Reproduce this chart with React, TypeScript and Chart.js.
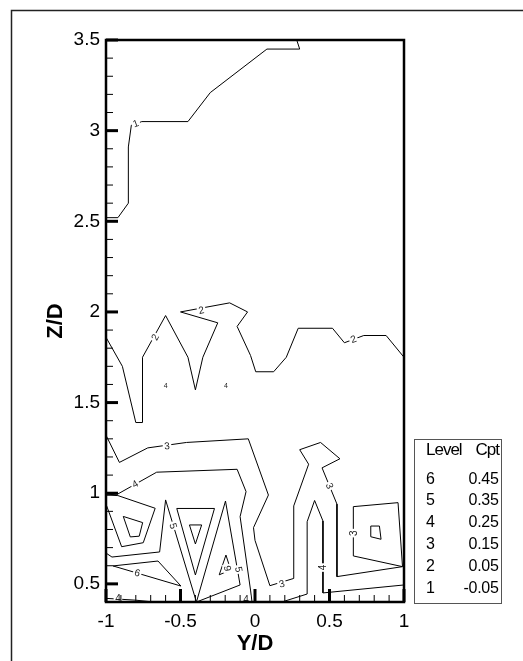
import React, { useEffect, useRef } from "react";
import { Chart, registerables } from "chart.js";

Chart.register(...registerables);

type Pt = [number, number];

// Axis ticks
const xTickValues = [-1, -0.5, 0, 0.5, 1];
const yTickValues = [0.5, 1, 1.5, 2, 2.5, 3, 3.5];

// Level table
const levelIds = [6, 5, 4, 3, 2, 1];
const cptValues = [0.45, 0.35, 0.25, 0.15, 0.05, -0.05];

// Contour polylines, (Y/D, Z/D)
const level1Path: Pt[] = [
  [-1.0, 2.52], [-0.92, 2.52], [-0.85, 2.6], [-0.85, 2.91], [-0.83, 3.03], [-0.79, 3.04],
  [-0.76, 3.05], [-0.45, 3.05], [-0.3, 3.21], [0.08, 3.45], [0.3, 3.45], [0.28, 3.5],
];
const level2Path: Pt[] = [
  [-1.0, 1.86], [-0.89, 1.7], [-0.8, 1.39], [-0.755, 1.39], [-0.755, 1.75], [-0.6, 1.98],
  [-0.45, 1.75], [-0.4, 1.57], [-0.35, 1.75], [-0.25, 1.94], [-0.5, 2.0], [-0.17, 2.05],
  [-0.05, 2.0], [-0.12, 1.92], [-0.03, 1.76], [0.005, 1.67], [0.125, 1.67], [0.21, 1.75],
  [0.29, 1.91], [0.52, 1.91], [0.6, 1.83], [0.73, 1.87], [0.88, 1.87], [1.0, 1.75],
];
const level3Path: Pt[] = [
  [-1.0, 1.32], [-0.91, 1.17], [-0.72, 1.25], [-0.46, 1.28], [-0.045, 1.3], [0.09, 0.99],
  [-0.01, 0.81], [0.0, 0.74], [0.1, 0.49], [0.26, 0.53], [0.26, 0.93], [0.36, 1.16],
  [0.3, 1.24], [0.44, 1.28], [0.57, 1.19], [0.45, 1.14], [0.55, 0.94], [0.55, 0.54],
  [0.99, 0.595], [0.66, 0.654], [0.66, 0.926], [0.96, 0.948], [0.99, 0.595],
];
const level3Core: Pt[] = [[0.777, 0.819], [0.835, 0.819], [0.846, 0.746], [0.777, 0.76], [0.777, 0.819]];
const level4Upper: Pt[] = [
  [-1.0, 0.99], [-0.92, 0.996], [-0.66, 1.116], [-0.12, 1.132], [-0.06, 1.009],
  [-0.1, 0.871], [-0.03, 0.466], [-0.02, 0.4],
];
const level4Right: Pt[] = [
  [0.18, 0.4], [0.35, 0.444], [0.35, 0.843], [0.4, 0.96], [0.456, 0.847], [0.456, 0.45], [1.0, 0.494],
];
const level4Floor: Pt[] = [[-1.0, 0.42], [-0.8, 0.41], [-0.68, 0.4]];
const level5Loop: Pt[] = [[-1.0, 0.94], [-0.895, 0.705], [-0.75, 0.727], [-0.67, 0.917], [-0.92, 0.987], [-1.0, 0.99]];
const level6Core: Pt[] = [[-0.884, 0.872], [-0.754, 0.838], [-0.777, 0.763], [-0.837, 0.759], [-0.884, 0.872]];
const level5Wedge: Pt[] = [[-1.0, 0.67], [-0.96, 0.648], [-0.64, 0.676], [-0.6, 0.963], [-0.393, 0.4]];
const level5Spike: Pt[] = [[-0.393, 0.4], [-0.198, 0.957], [-0.1, 0.494], [-0.393, 0.4]];
const level6Band: Pt[] = [[-0.953, 0.599], [-0.651, 0.626], [-0.497, 0.488], [-0.953, 0.599]];
const funnelOuter: Pt[] = [[-0.525, 0.916], [-0.272, 0.916], [-0.4, 0.549], [-0.525, 0.916]];
const funnelInner: Pt[] = [[-0.44, 0.825], [-0.358, 0.825], [-0.4, 0.72], [-0.44, 0.825]];
const level6Sliver: Pt[] = [[-0.195, 0.659], [-0.24, 0.55], [-0.163, 0.577], [-0.195, 0.659]];

const contourPaths: Pt[][] = [
  level1Path, level2Path, level3Path, level3Core, level4Upper, level4Right, level4Floor,
  level5Loop, level6Core, level5Wedge, level5Spike, level6Band, funnelOuter, funnelInner, level6Sliver,
];

// In-line contour labels: text, Y/D, Z/D, rotation (deg)
const contourLabels: [string, number, number, number][] = [
  ["1", -0.8, 3.04, -20],
  ["2", -0.67, 1.86, -62],
  ["2", -0.36, 2.01, -12],
  ["2", 0.66, 1.85, -21],
  ["3", -0.59, 1.26, -5],
  ["3", 0.18, 0.5, -15],
  ["3", 0.5, 1.04, 68],
  ["3", 0.665, 0.78, -90],
  ["4", -0.805, 1.05, -29],
  ["4", 0.456, 0.59, -90],
  ["4", -0.92, 0.42, 0],
  ["4", -0.06, 0.41, 0],
  ["5", -0.55, 0.82, 73],
  ["5", -0.11, 0.58, 80],
  ["6", -0.79, 0.56, 16],
  ["6", -0.183, 0.586, -100],
];
// Very small closed contours shown only by their label
const pointLabels: [string, number, number][] = [
  ["4", -0.6, 1.59],
  ["4", -0.195, 1.59],
];

const FONT = '"Liberation Sans", Arial, Helvetica, sans-serif';

const decorPlugin = {
  id: "decor",
  afterDatasetsDraw(chart: any) {
    const { ctx, chartArea: a, scales } = chart;
    const xs = scales.x;
    const ys = scales.y;
    ctx.save();

    // contour labels with a white gap behind them
    ctx.font = `10px ${FONT}`;
    ctx.textAlign = "center";
    ctx.textBaseline = "middle";
    for (const [t, lx, ly, ang] of contourLabels) {
      const px = xs.getPixelForValue(lx);
      const py = ys.getPixelForValue(ly);
      ctx.save();
      ctx.translate(px, py);
      ctx.rotate((ang * Math.PI) / 180);
      const w = ctx.measureText(t).width;
      ctx.fillStyle = "#fff";
      ctx.fillRect(-w / 2 - 1.5, -5, w + 3, 10);
      ctx.fillStyle = "#222";
      ctx.fillText(t, 0, 0.5);
      ctx.restore();
    }
    ctx.font = `7px ${FONT}`;
    ctx.fillStyle = "#222";
    for (const [t, lx, ly] of pointLabels) {
      ctx.fillText(t, xs.getPixelForValue(lx), ys.getPixelForValue(ly));
    }

    // plot frame
    ctx.strokeStyle = "#000";
    ctx.lineWidth = 2.5;
    ctx.strokeRect(a.left, a.top, a.right - a.left, a.bottom - a.top);

    // inward ticks on the left axis
    for (let k = 5; k <= 35; k++) {
      const py = ys.getPixelForValue(k / 10);
      const major = k % 5 === 0;
      ctx.lineWidth = major ? 3 : 1;
      ctx.beginPath();
      ctx.moveTo(a.left, py);
      ctx.lineTo(a.left + (major ? 12 : 7), py);
      ctx.stroke();
    }
    // inward ticks on the bottom axis
    for (let k = -10; k <= 10; k++) {
      const px = xs.getPixelForValue(k / 10);
      const major = k % 5 === 0;
      ctx.lineWidth = major ? 3 : 1;
      ctx.beginPath();
      ctx.moveTo(px, a.bottom);
      ctx.lineTo(px, a.bottom - (major ? 13 : 7));
      ctx.stroke();
    }

    // level table
    ctx.lineWidth = 1;
    ctx.strokeStyle = "#555";
    ctx.strokeRect(414.5, 439.5, 87, 164);
    ctx.fillStyle = "#000";
    ctx.textBaseline = "alphabetic";
    ctx.font = `17px ${FONT}`;
    try {
      ctx.letterSpacing = "-1px";
    } catch (e) {
      /* older canvas */
    }
    ctx.textAlign = "left";
    ctx.fillText("Level", 426, 454.5);
    ctx.textAlign = "right";
    ctx.fillText("Cpt", 499, 454.5);
    try {
      ctx.letterSpacing = "-0.3px";
    } catch (e) {
      /* older canvas */
    }
    ctx.font = `16px ${FONT}`;
    levelIds.forEach((lv, i) => {
      const by = 483.5 + i * 21.9;
      ctx.textAlign = "left";
      ctx.fillText(String(lv), 426, by);
      ctx.textAlign = "right";
      ctx.fillText(cptValues[i].toFixed(2), 498.5, by);
    });
    try {
      ctx.letterSpacing = "0px";
    } catch (e) {
      /* older canvas */
    }

    // page border
    ctx.lineWidth = 1.5;
    ctx.strokeStyle = "#222";
    ctx.strokeRect(11.5, 10.5, 700, 800);
    ctx.restore();
  },
};

export default function App() {
  const canvasRef = useRef<HTMLCanvasElement | null>(null);

  useEffect(() => {
    const canvas = canvasRef.current;
    if (!canvas) return;
    const datasets = contourPaths.map((path) => ({
      data: path.map(([x, y]) => ({ x, y })),
      showLine: true,
      borderColor: "#000",
      borderWidth: 1,
      pointRadius: 0,
      fill: false,
      tension: 0,
    }));
    const chart = new Chart(canvas, {
      type: "scatter",
      data: { datasets },
      options: {
        animation: false,
        responsive: false,
        devicePixelRatio: 1,
        layout: { padding: { left: 0, right: 119, top: 40, bottom: 0 } },
        plugins: { legend: { display: false }, tooltip: { enabled: false } },
        scales: {
          x: {
            type: "linear",
            min: -1,
            max: 1,
            afterBuildTicks: (s: any) => {
              s.ticks = xTickValues.map((v) => ({ value: v }));
            },
            afterFit: (s: any) => {
              s.height = 59;
            },
            grid: { display: false, drawTicks: false },
            border: { display: false },
            ticks: {
              color: "#000",
              font: { family: FONT, size: 19 },
              padding: 8,
              maxRotation: 0,
              autoSkip: false,
              callback: (v: any) => String(v),
            },
            title: {
              display: true,
              text: "Y/D",
              color: "#000",
              font: { family: FONT, size: 22, weight: "bold" },
              padding: { top: 0, bottom: 4 },
            },
          },
          y: {
            type: "linear",
            min: 0.4,
            max: 3.5,
            afterBuildTicks: (s: any) => {
              s.ticks = yTickValues.map((v) => ({ value: v }));
            },
            afterFit: (s: any) => {
              s.width = 106;
            },
            grid: { display: false, drawTicks: false },
            border: { display: false },
            ticks: {
              color: "#000",
              font: { family: FONT, size: 19 },
              padding: 6,
              autoSkip: false,
              callback: (v: any) => String(v),
            },
            title: {
              display: true,
              text: "Z/D",
              color: "#000",
              font: { family: FONT, size: 22, weight: "bold" },
              padding: { top: 43, bottom: 0 },
            },
          },
        },
      },
      plugins: [decorPlugin],
    } as any);
    return () => chart.destroy();
  }, []);

  return (
    <div style={{ position: "fixed", left: 0, top: 0, width: 523, height: 661, background: "#fff" }}>
      <canvas ref={canvasRef} width={523} height={661} style={{ display: "block" }} />
    </div>
  );
}
